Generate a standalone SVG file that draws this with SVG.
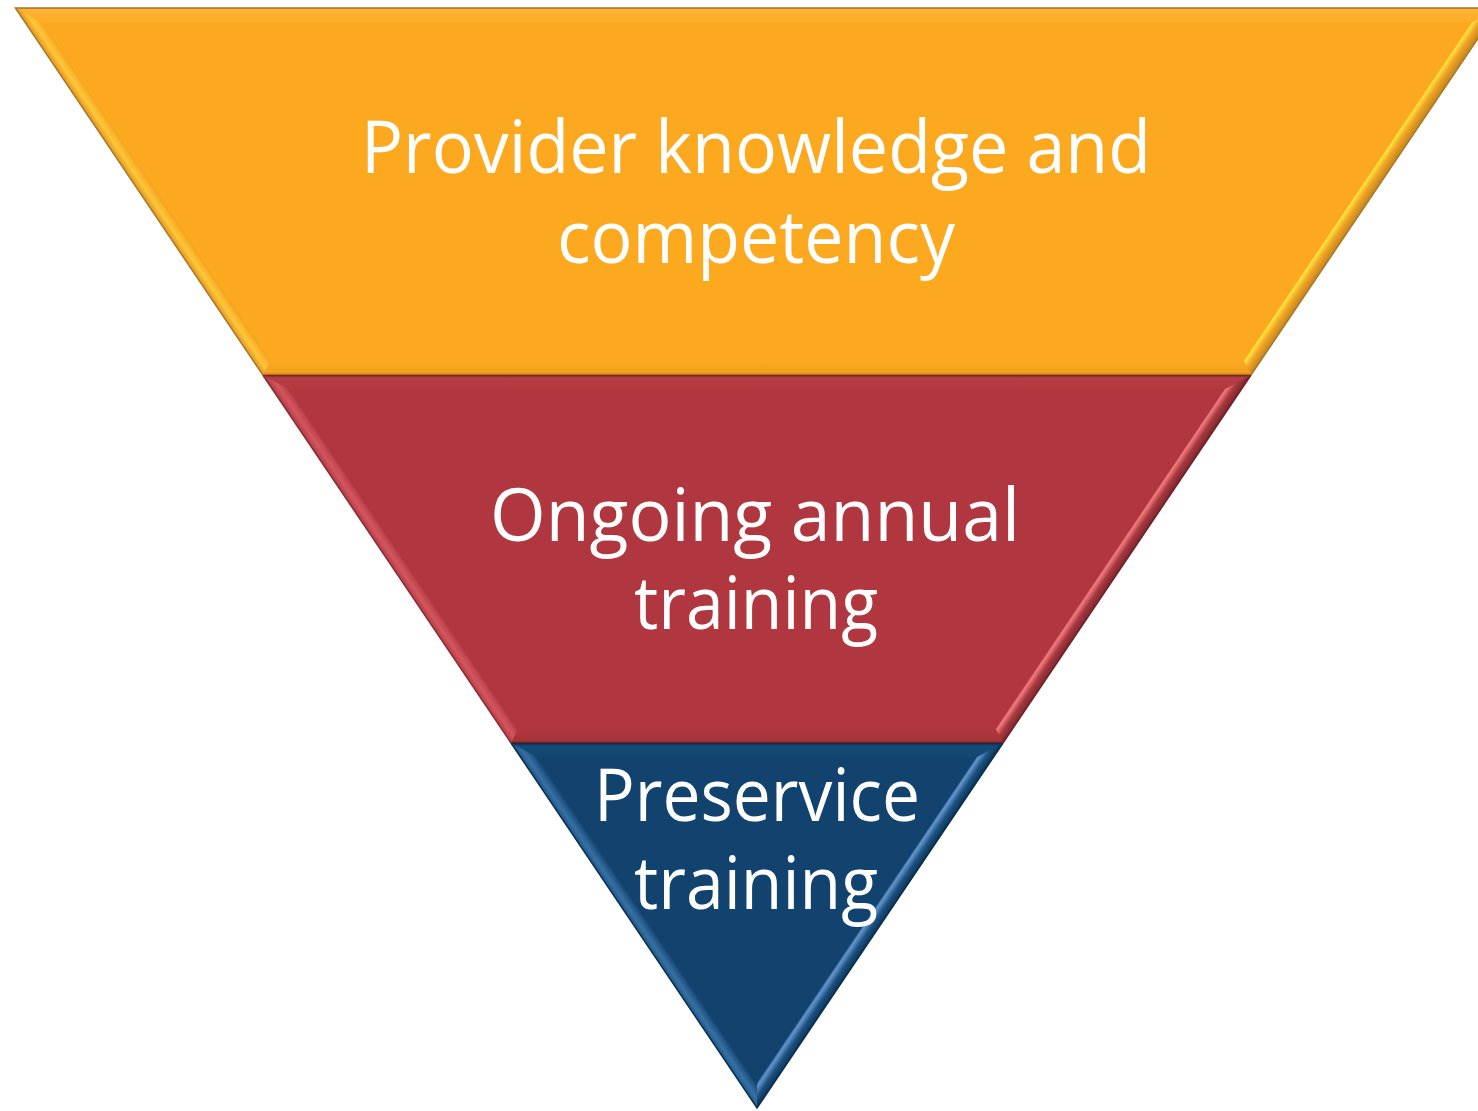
<svg xmlns="http://www.w3.org/2000/svg" width="1478" height="1111" viewBox="0 0 1478 1111">
  <defs>
    <style>
      .lbl { font-family: "Open Sans", "Noto Sans", sans-serif; font-size: 73px; fill: #ffffff; text-anchor: middle; }
      .edge { fill: none; stroke-width: 1.5; }
    </style>
    <!-- left edge bevel gradients (perpendicular to common left edge line) -->
    <linearGradient id="oL" gradientUnits="userSpaceOnUse" x1="757" y1="1108" x2="768.6" y2="1100.2">
      <stop offset="0" stop-color="#E7A023"/>
      <stop offset="0.35" stop-color="#FFC63A"/>
      <stop offset="0.7" stop-color="#F9B52C"/>
      <stop offset="1" stop-color="#E99A1B"/>
    </linearGradient>
    <linearGradient id="oR" gradientUnits="userSpaceOnUse" x1="757" y1="1108" x2="745.4" y2="1100.2">
      <stop offset="0" stop-color="#C98A1E"/>
      <stop offset="0.45" stop-color="#F1A424"/>
      <stop offset="0.85" stop-color="#FFE43E"/>
      <stop offset="1" stop-color="#F4B42A"/>
    </linearGradient>
    <linearGradient id="rL" gradientUnits="userSpaceOnUse" x1="757" y1="1108" x2="768.6" y2="1100.2">
      <stop offset="0" stop-color="#B3404A"/>
      <stop offset="0.35" stop-color="#D4555E"/>
      <stop offset="0.7" stop-color="#C44850"/>
      <stop offset="1" stop-color="#A4313A"/>
    </linearGradient>
    <linearGradient id="rR" gradientUnits="userSpaceOnUse" x1="757" y1="1108" x2="745.4" y2="1100.2">
      <stop offset="0" stop-color="#7F2A30"/>
      <stop offset="0.45" stop-color="#A9393F"/>
      <stop offset="0.85" stop-color="#F37A80"/>
      <stop offset="1" stop-color="#C24A52"/>
    </linearGradient>
    <linearGradient id="bL" gradientUnits="userSpaceOnUse" x1="757" y1="1108" x2="768.6" y2="1100.2">
      <stop offset="0" stop-color="#1E5686"/>
      <stop offset="0.35" stop-color="#3771A4"/>
      <stop offset="0.7" stop-color="#24598A"/>
      <stop offset="1" stop-color="#0F3D68"/>
    </linearGradient>
    <linearGradient id="bR" gradientUnits="userSpaceOnUse" x1="757" y1="1108" x2="745.4" y2="1100.2">
      <stop offset="0" stop-color="#0C3558"/>
      <stop offset="0.45" stop-color="#1D5283"/>
      <stop offset="0.85" stop-color="#6496CC"/>
      <stop offset="1" stop-color="#2A5F94"/>
    </linearGradient>
    <linearGradient id="oT" x1="0" y1="0" x2="0" y2="1">
      <stop offset="0" stop-color="#C7922E"/>
      <stop offset="0.1" stop-color="#FDB236"/>
      <stop offset="1" stop-color="#FCAC26"/>
    </linearGradient>
    <linearGradient id="rT" x1="0" y1="0" x2="0" y2="1">
      <stop offset="0" stop-color="#6A2124"/>
      <stop offset="0.2" stop-color="#B83E46"/>
      <stop offset="1" stop-color="#B3393F"/>
    </linearGradient>
    <linearGradient id="bT" x1="0" y1="0" x2="0" y2="1">
      <stop offset="0" stop-color="#0A2640"/>
      <stop offset="0.2" stop-color="#174A78"/>
      <stop offset="1" stop-color="#134671"/>
    </linearGradient>
    <linearGradient id="oB" x1="0" y1="0" x2="0" y2="1">
      <stop offset="0" stop-color="#FCA920"/>
      <stop offset="0.85" stop-color="#F2A01C"/>
      <stop offset="1" stop-color="#9A6A18"/>
    </linearGradient>
    <linearGradient id="rB" x1="0" y1="0" x2="0" y2="1">
      <stop offset="0" stop-color="#B0373F"/>
      <stop offset="0.85" stop-color="#A83238"/>
      <stop offset="1" stop-color="#5E1C20"/>
    </linearGradient>
  </defs>

  <g id="band-top">
    <polygon points="15.4,8 1498.6,8 1251,375 262.8,375" fill="#FCA920"/>
    <polygon points="15.4,8 262.8,375 270.3,361 41.7,22" fill="url(#oL)"/>
    <polygon points="1498.6,8 1251,375 1243.7,361 1472.3,22" fill="url(#oR)"/>
    <polygon points="15.4,8 1498.6,8 1472.3,22 41.7,22" fill="url(#oT)"/>
    <polygon points="262.8,375 1251,375 1243.7,361 270.3,361" fill="url(#oB)"/>
    <polyline class="edge" points="262.8,375 15.4,8 1498.6,8 1251,375" stroke="#A6782E"/>
    <text class="lbl" x="756" y="173" textLength="790" lengthAdjust="spacingAndGlyphs">Provider knowledge and</text>
    <text class="lbl" x="756" y="263" textLength="398" lengthAdjust="spacingAndGlyphs">competency</text>
  </g>

  <g id="band-middle">
    <polygon points="262.8,375 1251,375 1003,743 511,743" fill="#B0373F"/>
    <polygon points="262.8,375 511,743 518.4,729 289.2,389" fill="url(#rL)"/>
    <polygon points="1251,375 1003,743 995.6,729 1224.8,389" fill="url(#rR)"/>
    <polygon points="262.8,375 1251,375 1224.8,389 289.2,389" fill="url(#rT)"/>
    <polygon points="511,743 1003,743 995.6,729 518.4,729" fill="url(#rB)"/>
    <polyline class="edge" points="511,743 262.8,375" stroke="#8A2B32"/>
    <polyline class="edge" points="1251,375 1003,743" stroke="#6E2228"/>
    <text class="lbl" x="755" y="541" textLength="530" lengthAdjust="spacingAndGlyphs">Ongoing annual</text>
    <text class="lbl" x="756" y="629" textLength="244" lengthAdjust="spacingAndGlyphs">training</text>
  </g>

  <g id="band-bottom">
    <polygon points="511,743 1003,743 757,1108" fill="#12436F"/>
    <polygon points="511,743 757,1108 757,1083 537.3,757" fill="url(#bL)"/>
    <polygon points="1003,743 757,1108 757,1083 976.7,757" fill="url(#bR)"/>
    <polygon points="511,743 1003,743 976.7,757 537.3,757" fill="url(#bT)"/>
    <polyline class="edge" points="511,743 757,1108 1003,743" stroke="#0B2E4E"/>
    <text class="lbl" x="757" y="821" textLength="326" lengthAdjust="spacingAndGlyphs">Preservice</text>
    <text class="lbl" x="756" y="909" textLength="244" lengthAdjust="spacingAndGlyphs">training</text>
  </g>

  <g id="connectors"/>
</svg>
